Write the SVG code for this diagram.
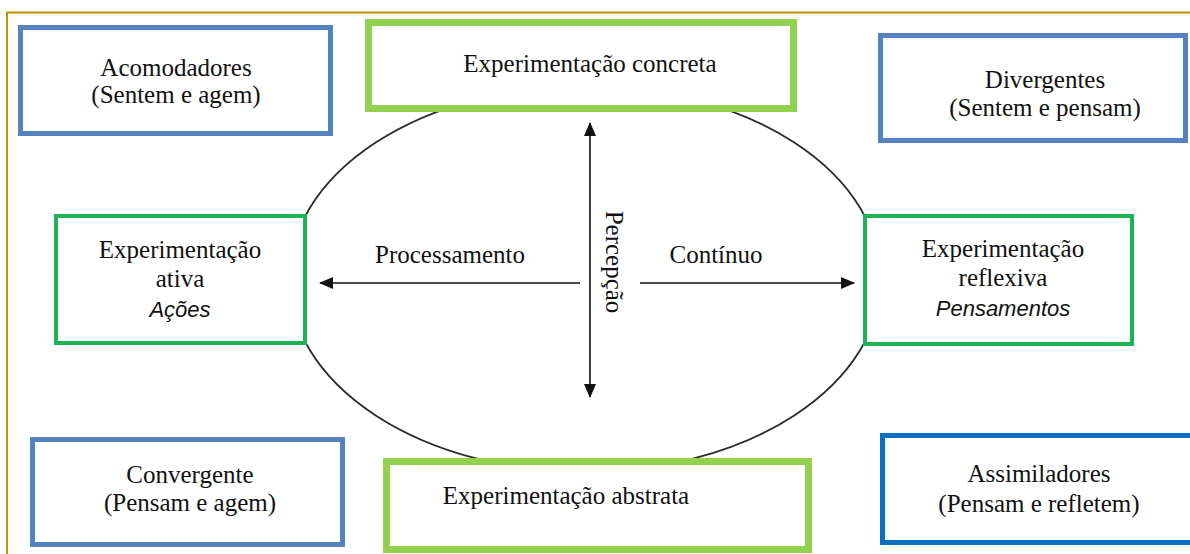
<svg xmlns="http://www.w3.org/2000/svg" width="1190" height="554" viewBox="0 0 1190 554">
<style>
.t{font-family:"Liberation Serif","Times New Roman",serif;font-size:25px;fill:#111;text-anchor:middle}
.i{font-family:"Liberation Sans",Arial,sans-serif;font-size:22px;font-style:italic;fill:#111;text-anchor:middle}
.bl{fill:#fff;stroke:#5583BF;stroke-width:5}
.bd{fill:#fff;stroke:#0A6FC2;stroke-width:5}
.gl{fill:#fff;stroke:#92D050;stroke-width:7}
.gd{fill:#fff;stroke:#1DB253;stroke-width:4}
.ar{stroke:#111;stroke-width:1.6;fill:none}
</style>
<defs>
<marker id="ah" viewBox="0 0 14 12" refX="13" refY="6" markerWidth="14" markerHeight="12" markerUnits="userSpaceOnUse" orient="auto-start-reverse">
<path d="M0,0 L14,6 L0,12 Z" fill="#111"/>
</marker>
</defs>
<rect width="1190" height="554" fill="#fff"/>
<path d="M7,554 V12.5 H1190" fill="none" stroke="#BF9000" stroke-width="2"/>
<ellipse id="cycle" cx="585" cy="279" rx="296" ry="193" fill="none" stroke="#2b2b2b" stroke-width="1.8"/>
<g id="connectors">
<line class="ar" x1="590" y1="123" x2="590" y2="397" marker-start="url(#ah)" marker-end="url(#ah)"/>
<line class="ar" x1="580" y1="283" x2="320" y2="283" marker-end="url(#ah)"/>
<line class="ar" x1="640" y1="283" x2="854" y2="283" marker-end="url(#ah)"/>
<text class="t" x="450" y="263">Processamento</text>
<text class="t" x="716" y="263">Contínuo</text>
<text class="t" transform="translate(606,262) rotate(90)" x="0" y="0">Percepção</text>
</g>
<g id="acomodadores">
<rect class="bl" x="20.5" y="27.5" width="310" height="106"/>
<text class="t" x="176" y="76">Acomodadores</text>
<text class="t" x="176" y="103">(Sentem e agem)</text>
</g>
<g id="concreta">
<rect class="gl" x="368.5" y="22.5" width="425" height="86"/>
<text class="t" x="590" y="72">Experimentação concreta</text>
</g>
<g id="divergentes">
<rect class="bl" x="880.5" y="35.5" width="305" height="105"/>
<text class="t" x="1045" y="88">Divergentes</text>
<text class="t" x="1045" y="116">(Sentem e pensam)</text>
</g>
<g id="ativa">
<rect class="gd" x="56" y="216" width="249" height="127"/>
<text class="t" x="180" y="258">Experimentação</text>
<text class="t" x="180" y="287">ativa</text>
<text class="i" x="180" y="317">Ações</text>
</g>
<g id="reflexiva">
<rect class="gd" x="865" y="216" width="267" height="128"/>
<text class="t" x="1003" y="257">Experimentação</text>
<text class="t" x="1003" y="286">reflexiva</text>
<text class="i" x="1003" y="316">Pensamentos</text>
</g>
<g id="convergente">
<rect class="bl" x="32.5" y="439.5" width="310" height="105"/>
<text class="t" x="190" y="483">Convergente</text>
<text class="t" x="190" y="511">(Pensam e agem)</text>
</g>
<g id="abstrata">
<rect class="gl" x="386.5" y="461.5" width="422" height="88"/>
<text class="t" x="566" y="504">Experimentação abstrata</text>
</g>
<g id="assimiladores">
<rect class="bd" x="882.5" y="435.5" width="310" height="107"/>
<text class="t" x="1039" y="482">Assimiladores</text>
<text class="t" x="1039" y="512">(Pensam e refletem)</text>
</g>
</svg>
